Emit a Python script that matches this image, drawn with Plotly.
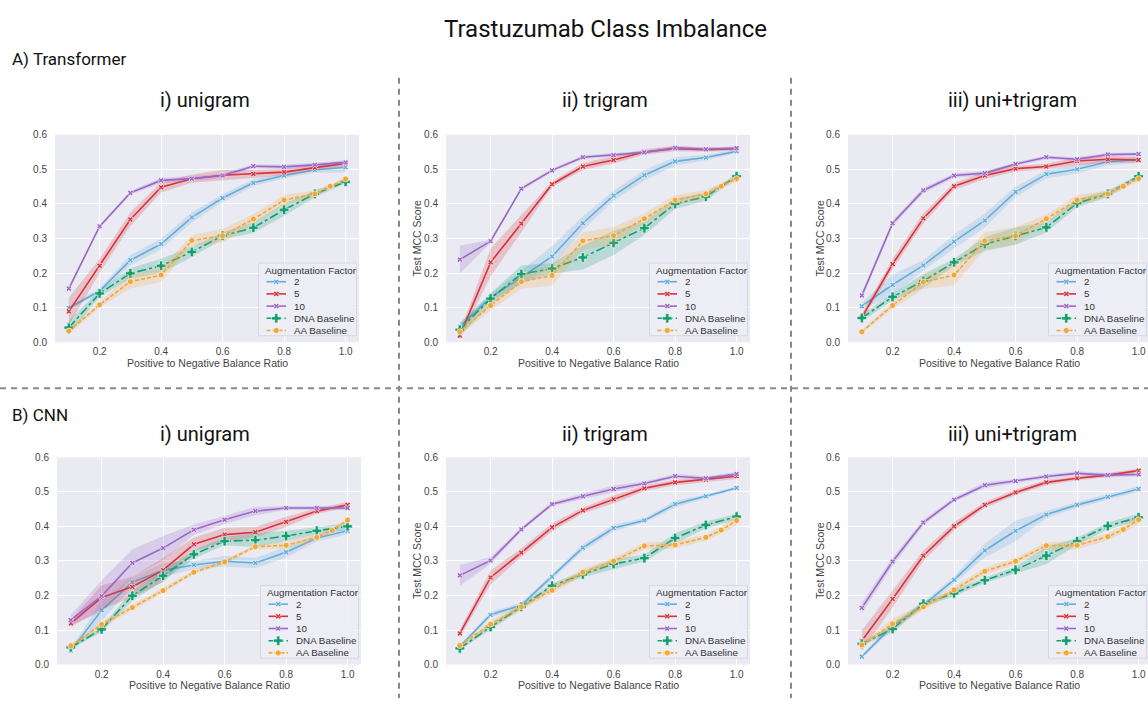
import plotly.graph_objects as go

W, H = 1148, 704

ratios = [0.1, 0.2, 0.3, 0.4, 0.5, 0.6, 0.7, 0.8, 0.9, 1.0]
aa_ratios = [0.1, 0.2, 0.3, 0.4, 0.5, 0.6, 0.7, 0.8, 0.9, 0.95, 1.0]
series_names = ["2", "5", "10", "DNA Baseline", "AA Baseline"]
x_ticks = [0.2, 0.4, 0.6, 0.8, 1.0]
y_ticks = [0.0, 0.1, 0.2, 0.3, 0.4, 0.5, 0.6]

# ---------- A) Transformer, i) unigram ----------
tf_uni_aug2 = [0.099, 0.148, 0.237, 0.284, 0.361, 0.417, 0.461, 0.482, 0.498, 0.506]
tf_uni_aug5 = [0.089, 0.221, 0.355, 0.448, 0.473, 0.483, 0.487, 0.492, 0.505, 0.517]
tf_uni_aug10 = [0.155, 0.335, 0.432, 0.468, 0.473, 0.482, 0.509, 0.507, 0.513, 0.520]
tf_uni_dna = [0.042, 0.141, 0.199, 0.221, 0.261, 0.308, 0.331, 0.383, 0.429, 0.464]
tf_uni_aa = [0.032, 0.108, 0.175, 0.194, 0.294, 0.308, 0.356, 0.411, 0.429, 0.451, 0.472]
tf_uni_aug2_ci = [0.005, 0.008, 0.015, 0.015, 0.015, 0.012, 0.010, 0.008, 0.008, 0.015]
tf_uni_aug5_ci = [0.040, 0.020, 0.020, 0.015, 0.012, 0.015, 0.012, 0.010, 0.008, 0.008]
tf_uni_aug10_ci = [0.005, 0.005, 0.005, 0.008, 0.008, 0.006, 0.006, 0.006, 0.006, 0.006]
tf_uni_dna_ci = [0.020, 0.010, 0.015, 0.020, 0.015, 0.010, 0.015, 0.018, 0.010, 0.005]
tf_uni_aa_ci = [0.010, 0.008, 0.020, 0.020, 0.015, 0.020, 0.015, 0.015, 0.010, 0.005, 0.005]

# ---------- A) Transformer, ii) trigram ----------
tf_tri_aug2 = [0.045, 0.130, 0.187, 0.248, 0.344, 0.424, 0.483, 0.523, 0.534, 0.552]
tf_tri_aug5 = [0.019, 0.231, 0.343, 0.457, 0.508, 0.527, 0.550, 0.560, 0.557, 0.560]
tf_tri_aug10 = [0.239, 0.292, 0.444, 0.497, 0.535, 0.541, 0.549, 0.562, 0.558, 0.561]
tf_tri_dna = [0.036, 0.126, 0.197, 0.213, 0.245, 0.287, 0.330, 0.400, 0.421, 0.480]
tf_tri_aa = [0.030, 0.106, 0.175, 0.193, 0.293, 0.308, 0.357, 0.411, 0.429, 0.451, 0.473]
tf_tri_aug2_ci = [0.010, 0.010, 0.020, 0.030, 0.020, 0.015, 0.015, 0.012, 0.008, 0.005]
tf_tri_aug5_ci = [0.010, 0.040, 0.025, 0.008, 0.010, 0.010, 0.008, 0.008, 0.006, 0.006]
tf_tri_aug10_ci = [0.040, 0.005, 0.005, 0.005, 0.005, 0.005, 0.005, 0.005, 0.005, 0.005]
tf_tri_dna_ci = [0.020, 0.015, 0.025, 0.015, 0.035, 0.035, 0.020, 0.015, 0.012, 0.005]
tf_tri_aa_ci = [0.010, 0.015, 0.020, 0.030, 0.025, 0.025, 0.015, 0.015, 0.012, 0.008, 0.008]

# ---------- A) Transformer, iii) uni+trigram ----------
tf_both_aug2 = [0.104, 0.166, 0.222, 0.291, 0.352, 0.435, 0.486, 0.500, 0.522, 0.528]
tf_both_aug5 = [0.072, 0.226, 0.358, 0.451, 0.482, 0.502, 0.508, 0.524, 0.529, 0.527]
tf_both_aug10 = [0.135, 0.344, 0.439, 0.482, 0.489, 0.515, 0.535, 0.529, 0.543, 0.544]
tf_both_dna = [0.070, 0.131, 0.177, 0.231, 0.284, 0.307, 0.332, 0.402, 0.429, 0.480]
tf_both_aa = [0.030, 0.106, 0.174, 0.194, 0.293, 0.308, 0.357, 0.411, 0.429, 0.451, 0.473]
tf_both_aug2_ci = [0.010, 0.030, 0.015, 0.020, 0.020, 0.015, 0.012, 0.012, 0.010, 0.010]
tf_both_aug5_ci = [0.010, 0.015, 0.015, 0.010, 0.010, 0.008, 0.008, 0.012, 0.010, 0.008]
tf_both_aug10_ci = [0.010, 0.008, 0.008, 0.006, 0.006, 0.005, 0.005, 0.005, 0.005, 0.005]
tf_both_dna_ci = [0.010, 0.010, 0.020, 0.010, 0.020, 0.025, 0.015, 0.012, 0.010, 0.005]
tf_both_aa_ci = [0.005, 0.010, 0.020, 0.030, 0.025, 0.025, 0.012, 0.015, 0.010, 0.008, 0.008]

# ---------- B) CNN, i) unigram ----------
cnn_uni_aug2 = [0.040, 0.157, 0.238, 0.273, 0.288, 0.299, 0.294, 0.325, 0.366, 0.387]
cnn_uni_aug5 = [0.119, 0.194, 0.225, 0.273, 0.348, 0.376, 0.383, 0.413, 0.444, 0.462]
cnn_uni_aug10 = [0.129, 0.198, 0.294, 0.337, 0.390, 0.419, 0.444, 0.453, 0.453, 0.453]
cnn_uni_dna = [0.050, 0.102, 0.199, 0.257, 0.319, 0.357, 0.360, 0.372, 0.387, 0.400]
cnn_uni_aa = [0.054, 0.116, 0.165, 0.214, 0.267, 0.297, 0.341, 0.345, 0.368, 0.388, 0.418]
cnn_uni_aug2_ci = [0.005, 0.030, 0.015, 0.020, 0.012, 0.015, 0.015, 0.015, 0.010, 0.010]
cnn_uni_aug5_ci = [0.010, 0.035, 0.030, 0.035, 0.020, 0.020, 0.015, 0.015, 0.008, 0.008]
cnn_uni_aug10_ci = [0.015, 0.045, 0.040, 0.035, 0.015, 0.012, 0.012, 0.006, 0.006, 0.006]
cnn_uni_dna_ci = [0.005, 0.008, 0.015, 0.015, 0.012, 0.012, 0.020, 0.015, 0.010, 0.010]
cnn_uni_aa_ci = [0.005, 0.008, 0.008, 0.008, 0.006, 0.006, 0.006, 0.010, 0.010, 0.006, 0.006]

# ---------- B) CNN, ii) trigram ----------
cnn_tri_aug2 = [0.052, 0.144, 0.172, 0.254, 0.338, 0.395, 0.417, 0.464, 0.487, 0.511]
cnn_tri_aug5 = [0.090, 0.252, 0.324, 0.397, 0.446, 0.478, 0.510, 0.527, 0.535, 0.545]
cnn_tri_aug10 = [0.258, 0.301, 0.391, 0.464, 0.487, 0.508, 0.524, 0.545, 0.539, 0.551]
cnn_tri_dna = [0.047, 0.109, 0.167, 0.228, 0.261, 0.291, 0.308, 0.366, 0.404, 0.428]
cnn_tri_aa = [0.055, 0.117, 0.167, 0.215, 0.267, 0.299, 0.343, 0.346, 0.368, 0.389, 0.417]
cnn_tri_aug2_ci = [0.005, 0.008, 0.008, 0.008, 0.010, 0.010, 0.006, 0.010, 0.005, 0.005]
cnn_tri_aug5_ci = [0.010, 0.020, 0.012, 0.012, 0.008, 0.012, 0.008, 0.008, 0.008, 0.008]
cnn_tri_aug10_ci = [0.030, 0.010, 0.006, 0.006, 0.008, 0.010, 0.006, 0.006, 0.006, 0.006]
cnn_tri_dna_ci = [0.005, 0.008, 0.008, 0.008, 0.008, 0.015, 0.010, 0.015, 0.010, 0.008]
cnn_tri_aa_ci = [0.005, 0.010, 0.008, 0.010, 0.010, 0.010, 0.010, 0.010, 0.008, 0.010, 0.015]

# ---------- B) CNN, iii) uni+trigram ----------
cnn_both_aug2 = [0.023, 0.112, 0.172, 0.245, 0.330, 0.387, 0.434, 0.462, 0.485, 0.508]
cnn_both_aug5 = [0.069, 0.190, 0.315, 0.400, 0.462, 0.498, 0.527, 0.539, 0.548, 0.561]
cnn_both_aug10 = [0.164, 0.298, 0.411, 0.477, 0.519, 0.531, 0.544, 0.553, 0.548, 0.550]
cnn_both_dna = [0.060, 0.103, 0.176, 0.206, 0.244, 0.274, 0.315, 0.357, 0.401, 0.426]
cnn_both_aa = [0.057, 0.118, 0.167, 0.216, 0.270, 0.299, 0.344, 0.345, 0.370, 0.391, 0.419]
cnn_both_aug2_ci = [0.005, 0.010, 0.008, 0.010, 0.020, 0.030, 0.010, 0.008, 0.008, 0.008]
cnn_both_aug5_ci = [0.030, 0.025, 0.015, 0.012, 0.008, 0.008, 0.008, 0.006, 0.006, 0.006]
cnn_both_aug10_ci = [0.015, 0.012, 0.008, 0.006, 0.008, 0.006, 0.006, 0.006, 0.006, 0.006]
cnn_both_dna_ci = [0.005, 0.010, 0.008, 0.008, 0.008, 0.010, 0.025, 0.010, 0.010, 0.010]
cnn_both_aa_ci = [0.005, 0.015, 0.010, 0.010, 0.010, 0.010, 0.010, 0.012, 0.010, 0.010, 0.015]

panel_data = [
    [tf_uni_aug2, tf_uni_aug5, tf_uni_aug10, tf_uni_dna, tf_uni_aa],
    [tf_tri_aug2, tf_tri_aug5, tf_tri_aug10, tf_tri_dna, tf_tri_aa],
    [tf_both_aug2, tf_both_aug5, tf_both_aug10, tf_both_dna, tf_both_aa],
    [cnn_uni_aug2, cnn_uni_aug5, cnn_uni_aug10, cnn_uni_dna, cnn_uni_aa],
    [cnn_tri_aug2, cnn_tri_aug5, cnn_tri_aug10, cnn_tri_dna, cnn_tri_aa],
    [cnn_both_aug2, cnn_both_aug5, cnn_both_aug10, cnn_both_dna, cnn_both_aa],
]
panel_ci = [
    [tf_uni_aug2_ci, tf_uni_aug5_ci, tf_uni_aug10_ci, tf_uni_dna_ci, tf_uni_aa_ci],
    [tf_tri_aug2_ci, tf_tri_aug5_ci, tf_tri_aug10_ci, tf_tri_dna_ci, tf_tri_aa_ci],
    [tf_both_aug2_ci, tf_both_aug5_ci, tf_both_aug10_ci, tf_both_dna_ci, tf_both_aa_ci],
    [cnn_uni_aug2_ci, cnn_uni_aug5_ci, cnn_uni_aug10_ci, cnn_uni_dna_ci, cnn_uni_aa_ci],
    [cnn_tri_aug2_ci, cnn_tri_aug5_ci, cnn_tri_aug10_ci, cnn_tri_dna_ci, cnn_tri_aa_ci],
    [cnn_both_aug2_ci, cnn_both_aug5_ci, cnn_both_aug10_ci, cnn_both_dna_ci, cnn_both_aa_ci],
]

# ---------- styles ----------
colors = ["#64ADDB", "#D8333C", "#9B68C8", "#139E70", "#F2A73A"]
fills = ["rgba(100,173,219,0.22)", "rgba(216,51,60,0.22)", "rgba(155,104,200,0.22)",
         "rgba(19,158,112,0.22)", "rgba(242,167,58,0.22)"]
dashes = ["solid", "solid", "solid", "dashdot", "4px,2px"]
symbols = ["x", "x", "x", "cross", "circle"]
msizes = [5, 5, 5, 8, 6]

# panel pixel boxes (left, right, top, bottom)
panels_px = [(55, 359, 131, 342), (446, 750, 131, 342), (848, 1148, 131, 342),
             (57, 361, 459, 670), (446, 750, 459, 670), (848, 1148, 459, 670)]
PX_PER_UNIT = 307.5
X_LO = 0.055

TICK_FONT = dict(family="Liberation Sans, Arial, sans-serif", size=10, color="#444444")
HEAD_FONT = "Roboto, 'Noto Sans', sans-serif"

fig = go.Figure()
layout = dict(
    width=W, height=H, margin=dict(l=0, r=0, t=0, b=0),
    paper_bgcolor="white", plot_bgcolor="rgba(0,0,0,0)", showlegend=False,
)
shapes = []
annotations = []

for i, (x0, x1, y0, y1) in enumerate(panels_px):
    n = i + 1
    xs = "" if n == 1 else str(n)
    xa, ya = "x" + xs, "y" + xs
    layout["xaxis" + xs] = dict(
        domain=[x0 / W, x1 / W], anchor=ya,
        range=[X_LO, X_LO + (x1 - x0) / PX_PER_UNIT],
        tickvals=x_ticks, ticktext=[f"{v:.1f}" for v in x_ticks],
        showgrid=True, gridcolor="white", gridwidth=1, zeroline=False, showline=False,
        ticks="", tickfont=TICK_FONT, ticklabelstandoff=2, fixedrange=True,
    )
    layout["yaxis" + xs] = dict(
        domain=[1 - y1 / H, 1 - y0 / H], anchor=xa,
        range=[0, 0.6], tickvals=y_ticks, ticktext=[f"{v:.1f}" for v in y_ticks],
        showgrid=True, gridcolor="white", gridwidth=1, zeroline=False, showline=False,
        ticks="", tickfont=TICK_FONT, ticklabelstandoff=7, fixedrange=True,
    )
    shapes.append(dict(type="rect", xref=xa + " domain", yref=ya + " domain",
                       x0=0, x1=1, y0=0, y1=1, fillcolor="#EAEAF2",
                       line=dict(width=0), layer="below"))

    for s in range(5):
        xv = aa_ratios if s == 4 else ratios
        yv = panel_data[i][s]
        ci = panel_ci[i][s]
        upper = [v + c for v, c in zip(yv, ci)]
        lower = [v - c for v, c in zip(yv, ci)]
        fig.add_trace(go.Scatter(
            x=list(xv) + list(xv)[::-1], y=upper + lower[::-1],
            fill="toself", fillcolor=fills[s], line=dict(width=0),
            mode="lines", hoverinfo="skip", xaxis=xa, yaxis=ya,
        ))
        fig.add_trace(go.Scatter(
            x=xv, y=yv, mode="lines+markers", name=series_names[s],
            line=dict(color=colors[s], width=1.6, dash=dashes[s]),
            marker=dict(symbol=symbols[s], size=msizes[s], color=colors[s],
                        line=dict(color="white", width=0.6)),
            xaxis=xa, yaxis=ya,
        ))

    # axis titles
    cx = (x0 + x1) / 2 if x1 < W else (x0 + 1150) / 2
    annotations.append(dict(text="Positive to Negative Balance Ratio", x=cx, y=y1 + 21,
                            xref="x7", yref="y7", showarrow=False,
                            font=dict(family=TICK_FONT["family"], size=10.5, color="#444444")))
    if i in (1, 4):
        annotations.append(dict(text="Test MCC Score", x=417, y=(y0 + y1) / 2, textangle=-90,
                                xref="x7", yref="y7", showarrow=False,
                                font=dict(family=TICK_FONT["family"], size=10.5, color="#444444")))
    if i in (2, 5):
        annotations.append(dict(text="Test MCC Score", x=820, y=(y0 + y1) / 2, textangle=-90,
                                xref="x7", yref="y7", showarrow=False,
                                font=dict(family=TICK_FONT["family"], size=10.5, color="#444444")))

    # legend drawn manually (compact, like seaborn)
    right = x1 - 2.5 if x1 < W else W - 1.5
    bw, bh = 98, 74
    L, T = right - bw, y1 - 6.5 - bh
    fig.add_trace(go.Scatter(
        x=[L, L + bw, L + bw, L, L], y=[T, T, T + bh, T + bh, T],
        fill="toself", fillcolor="rgba(237,237,245,0.88)",
        line=dict(color="#D2D2DA", width=0.8), mode="lines",
        hoverinfo="skip", xaxis="x7", yaxis="y7",
    ))
    annotations.append(dict(text="Augmentation Factor", x=L + 4.5, y=T + 7.5,
                            xanchor="left", xref="x7", yref="y7", showarrow=False,
                            font=dict(family=TICK_FONT["family"], size=9.8, color="#333333")))
    for s in range(5):
        yk = T + 19 + 12.4 * s
        fig.add_trace(go.Scatter(
            x=[L + 8, L + 27.5], y=[yk, yk], mode="lines",
            line=dict(color=colors[s], width=1.6, dash=dashes[s]),
            hoverinfo="skip", xaxis="x7", yaxis="y7",
        ))
        fig.add_trace(go.Scatter(
            x=[L + 17.75], y=[yk], mode="markers",
            marker=dict(symbol=symbols[s], size=msizes[s], color=colors[s],
                        line=dict(color="white", width=0.6)),
            hoverinfo="skip", xaxis="x7", yaxis="y7",
        ))
        annotations.append(dict(text=series_names[s], x=L + 33, y=yk, xanchor="left",
                                xref="x7", yref="y7", showarrow=False,
                                font=dict(family=TICK_FONT["family"], size=9.8, color="#333333")))

# overlay pixel axes for layout decorations
layout["xaxis7"] = dict(domain=[0, 1], range=[0, W], visible=False, anchor="y7", fixedrange=True)
layout["yaxis7"] = dict(domain=[0, 1], range=[H, 0], visible=False, anchor="x7", fixedrange=True)

# headings
annotations.append(dict(text="Trastuzumab Class Imbalance", x=605, y=23, xref="x7", yref="y7",
                        showarrow=False, font=dict(family=HEAD_FONT, size=24, color="#111111")))
annotations.append(dict(text="A) Transformer", x=10, y=54, xanchor="left", xref="x7", yref="y7",
                        showarrow=False, font=dict(family=HEAD_FONT, size=17, color="#111111")))
annotations.append(dict(text="B) CNN", x=10, y=416, xanchor="left", xref="x7", yref="y7",
                        showarrow=False, font=dict(family=HEAD_FONT, size=17, color="#111111")))
sub_titles = ["i) unigram", "ii) trigram", "iii) uni+trigram"]
sub_x = [205, 605, 1012]
for row_y in (96, 435):
    for t, sx in zip(sub_titles, sub_x):
        annotations.append(dict(text=t, x=sx, y=row_y, xref="x7", yref="y7", showarrow=False,
                                font=dict(family=HEAD_FONT, size=20, color="#111111")))

# dashed separators
sep = dict(color="#888888", width=2, dash="6px,5px")
shapes.append(dict(type="line", xref="x7", yref="y7", x0=399, x1=399, y0=73, y1=704, line=sep, layer="above"))
shapes.append(dict(type="line", xref="x7", yref="y7", x0=791, x1=791, y0=73, y1=704, line=sep, layer="above"))
shapes.append(dict(type="line", xref="x7", yref="y7", x0=0, x1=W, y0=389, y1=389, line=sep, layer="above"))

layout["shapes"] = shapes
layout["annotations"] = annotations
fig.update_layout(**layout)

fig.write_html("out.html", config={"displayModeBar": False},
               post_script="document.body.style.margin='0px';document.body.style.overflow='hidden';")
